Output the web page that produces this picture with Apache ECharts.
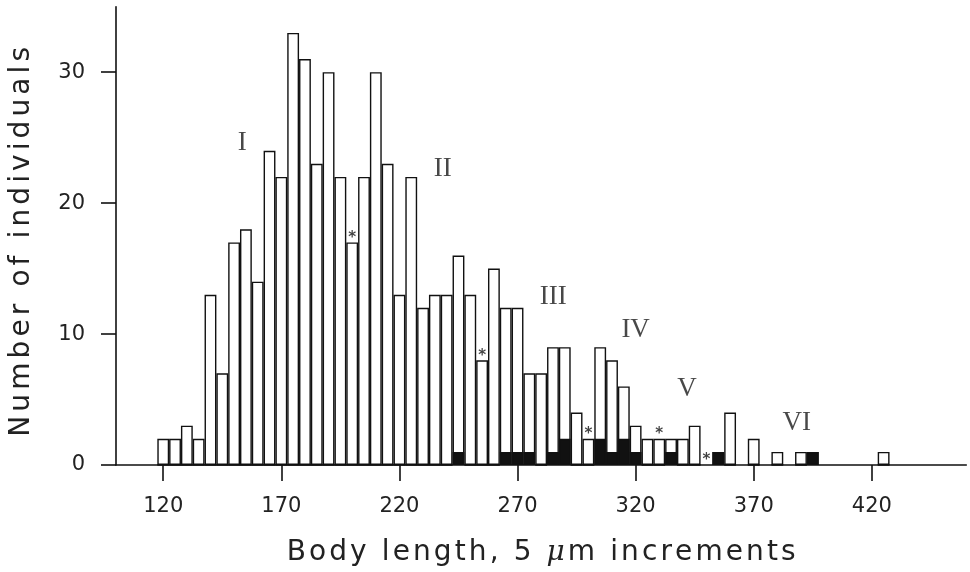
<!DOCTYPE html>
<html>
<head>
<meta charset="utf-8">
<script src="https://cdn.jsdelivr.net/npm/echarts@6/dist/echarts.min.js"></script>
<style>
* { margin: 0; padding: 0; }
html, body { background: #fff; }
#chart { width: 970px; height: 572px; }
</style>
</head>
<body>
<div id="chart"></div>
<script>
// body length bins (5 um steps), only the non-empty ones
var bins = [120, 125, 130, 135, 140, 145, 150, 155, 160, 165, 170, 175, 180, 185, 190, 195,
  200, 205, 210, 215, 220, 225, 230, 235, 240, 245, 250, 255, 260, 265, 270, 275, 280,
  285, 290, 295, 300, 305, 310, 315, 320, 325, 330, 335, 340, 345, 355, 360, 370, 380,
  390, 395, 425];
// total number of individuals per bin
var totalCounts = [2, 2, 3, 2, 13, 7, 17, 18, 14, 24, 22, 33, 31, 23, 30, 22,
  17, 22, 30, 23, 13, 22, 12, 13, 13, 16, 13, 8, 15, 12, 12, 7, 7,
  9, 9, 4, 2, 9, 8, 6, 3, 2, 2, 2, 2, 3, 1, 4, 2, 1,
  1, 1, 1];
// solid (black) part of each bar
var solidCounts = [0, 0, 0, 0, 0, 0, 0, 0, 0, 0, 0, 0, 0, 0, 0, 0,
  0, 0, 0, 0, 0, 0, 0, 0, 0, 1, 0, 0, 0, 1, 1, 1, 0,
  1, 2, 0, 0, 2, 1, 2, 1, 0, 0, 1, 0, 0, 1, 0, 0, 0,
  0, 1, 0];
// bins marked with an asterisk and the bar height under it
var starBins = [200, 255, 300, 330, 350];
var starHeights = [17, 8, 2, 2, 0];
// cohort labels and where they sit (data coords)
var cohortNames = ["I", "II", "III", "IV", "V", "VI"];
var cohortX = [153.5, 238.3, 285.1, 320, 341.8, 388.2];
var cohortY = [24.6, 22.6, 12.85, 10.3, 5.78, 3.18];
var xTicks = [120, 170, 220, 270, 320, 370, 420];
var yTicks = [0, 10, 20, 30];

// wide letter spacing like the old plot lettering
function tracked(text, style) {
  return text.split("").map(function (c) {
    if (c === "μ") return "{mu|μ}";
    return "{" + style + "|" + c + "}";
  }).join("");
}

var chart = echarts.init(document.getElementById("chart"), null, { renderer: "canvas" });

var titleFont = { fontFamily: "DejaVu Sans", fontSize: 28, color: "#222" };
var xName = tracked("Body length, 5 μm increments", "t");
var yText = "Number of individuals";
var yName = tracked(yText.slice(0, -1), "t") + "{e|" + yText.slice(-1) + "}";

chart.setOption({
  animation: false,
  backgroundColor: "#fff",
  grid: { left: 114.5, right: 3.7, top: 6.7, bottom: 107 },
  xAxis: {
    type: "value",
    min: 100,
    max: 460,
    name: xName,
    nameLocation: "middle",
    nameGap: 74,
    nameTextStyle: Object.assign({}, titleFont, {
      rich: {
        t: Object.assign({ padding: [0, 1.55, 0, 1.55] }, titleFont),
        mu: { padding: [0, 1.55, 0, 1.55], fontFamily: "DejaVu Serif", fontStyle: "italic", fontSize: 28, color: "#222" }
      }
    }),
    axisLine: { lineStyle: { color: "#111", width: 1.6 } },
    axisTick: { customValues: xTicks, length: 16, lineStyle: { color: "#111", width: 1.6 } },
    axisLabel: {
      customValues: xTicks,
      margin: 31,
      fontFamily: "DejaVu Sans",
      fontSize: 21,
      color: "#222"
    },
    splitLine: { show: false }
  },
  yAxis: {
    type: "value",
    min: 0,
    max: 35,
    name: yName,
    nameLocation: "middle",
    nameGap: 80,
    nameTextStyle: Object.assign({}, titleFont, {
      rich: {
        t: Object.assign({ padding: [0, 2.05, 0, 2.05] }, titleFont),
        e: Object.assign({ padding: [0, 14, 0, 2.05] }, titleFont)
      }
    }),
    axisLine: { show: true, lineStyle: { color: "#111", width: 1.6 } },
    axisTick: { show: true, customValues: yTicks, length: 15, lineStyle: { color: "#111", width: 1.6 } },
    axisLabel: {
      customValues: yTicks,
      margin: 31,
      fontFamily: "DejaVu Sans",
      fontSize: 21,
      color: "#222"
    },
    splitLine: { show: false }
  },
  series: [
    {
      name: "total",
      type: "bar",
      barWidth: 11.83,
      barGap: "-100%",
      itemStyle: { color: "#fff", borderColor: "#111", borderWidth: 1.4 },
      data: bins.map(function (b, i) { return [b, totalCounts[i]]; })
    },
    {
      name: "solid",
      type: "bar",
      barWidth: 11.83,
      barGap: "-100%",
      itemStyle: { color: "#111", borderColor: "#111", borderWidth: 1.4 },
      data: bins.map(function (b, i) { return [b, solidCounts[i]]; })
    },
    {
      name: "stars",
      type: "scatter",
      symbolSize: 0,
      z: 5,
      label: {
        show: true,
        position: "top",
        distance: -3,
        formatter: "*",
        fontFamily: "DejaVu Sans",
        fontWeight: "bold",
        fontSize: 15,
        color: "#111"
      },
      data: starBins.map(function (b, i) { return [b, starHeights[i]]; })
    },
    {
      name: "cohorts",
      type: "scatter",
      symbolSize: 0,
      z: 5,
      label: {
        show: true,
        position: "inside",
        formatter: function (p) { return p.name; },
        fontFamily: "Liberation Serif",
        fontSize: 27,
        color: "#1a1a1a"
      },
      data: cohortNames.map(function (n, i) { return { name: n, value: [cohortX[i], cohortY[i]] }; })
    }
  ]
});
</script>
</body>
</html>
